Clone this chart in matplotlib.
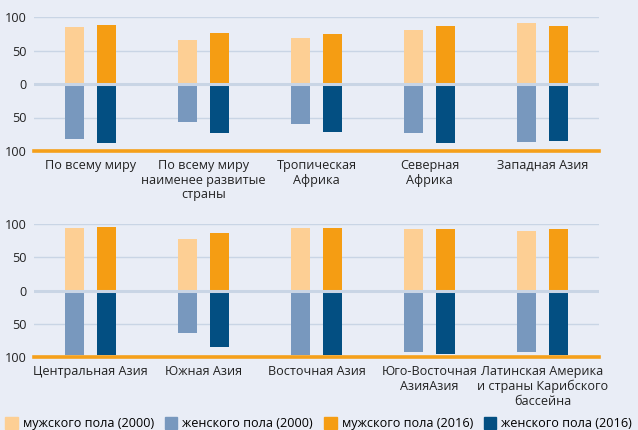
import matplotlib
matplotlib.use("Agg")
import matplotlib.pyplot as plt
import numpy as np
from matplotlib.patches import Patch

plt.rcParams['font.family'] = ['Open Sans', 'DejaVu Sans']

top_categories = ["По всему миру", "По всему миру\nнаименее развитые\nстраны", "Тропическая\nАфрика",
                  "Северная\nАфрика", "Западная Азия"]
top_male_2000 = [85, 65, 68, 80, 90.5]
top_male_2016 = [88, 76, 74.5, 86.5, 86.5]
top_female_2000 = [81.5, 56, 59, 72.5, 86]
top_female_2016 = [88, 73, 71, 88, 84.5]

bot_categories = ["Центральная Азия", "Южная Азия", "Восточная Азия",
                  "Юго-Восточная\nАзияАзия", "Латинская Америка\nи страны Карибского\nбассейна"]
bot_male_2000 = [94, 77.5, 94, 92.5, 89.5]
bot_male_2016 = [96, 87, 94, 92.5, 92.5]
bot_female_2000 = [96.5, 63.5, 96.5, 93, 93]
bot_female_2016 = [96.5, 84.5, 96.5, 95, 96.5]

y_ticks = [100, 50, 0, -50, -100]
y_ticklabels = ["100", "50", "0", "50", "100"]
legend_labels = ["мужского пола (2000)", "женского пола (2000)",
                 "мужского пола (2016)", "женского пола (2016)"]

c_m00 = "#FDCF94"
c_f00 = "#7898BE"
c_m16 = "#F59D13"
c_f16 = "#034F82"
bg = "#E9EDF6"
grid_c = "#C9D5E5"
fs = 9.1

W, H = 638, 430
fig = plt.figure(figsize=(W / 100, H / 100), dpi=100, facecolor=bg)

def make_ax(top_px, bot_px, cats, m00, m16, f00, f16):
    left_px, right_px = 34, 599
    ax = fig.add_axes([left_px / W, 1 - bot_px / H, (right_px - left_px) / W, (bot_px - top_px) / H])
    ax.set_facecolor(bg)
    x = np.arange(len(cats))
    w = 0.168
    off = 0.142
    ax.bar(x - off, m00, width=w, color=c_m00, zorder=2)
    ax.bar(x + off, m16, width=w, color=c_m16, zorder=2)
    ax.bar(x - off, -np.array(f00), width=w, color=c_f00, zorder=2)
    ax.bar(x + off, -np.array(f16), width=w, color=c_f16, zorder=2)
    for yv in [100, 50, -50]:
        ax.axhline(yv, color=grid_c, lw=1, zorder=1)
    ax.axhline(0, color=grid_c, lw=2.2, zorder=3)
    ax.axhline(-100, color="#F5A01A", lw=2.6, zorder=4, clip_on=False)
    ax.set_xlim(-0.5, len(cats) - 0.5)
    ax.set_ylim(-100, 100)
    ax.set_yticks(y_ticks)
    ax.set_yticklabels(y_ticklabels)
    ax.set_xticks(x)
    ax.set_xticklabels(cats, linespacing=1.15)
    ax.tick_params(axis='both', length=0, labelsize=fs, colors="#222222")
    ax.tick_params(axis='y', pad=5)
    ax.tick_params(axis='x', pad=6)
    for s in ax.spines.values():
        s.set_visible(False)
    return ax

make_ax(17, 151, top_categories, top_male_2000, top_male_2016, top_female_2000, top_female_2016)
make_ax(224, 357, bot_categories, bot_male_2000, bot_male_2016, bot_female_2000, bot_female_2016)

handles = [Patch(color=c) for c in [c_m00, c_f00, c_m16, c_f16]]
fig.legend(handles, legend_labels, loc='center left', bbox_to_anchor=(0.008, 0.014),
           ncol=4, frameon=False, fontsize=fs, handlelength=1.0, handleheight=1.0,
           handletextpad=0.4, columnspacing=0.85, borderaxespad=0, borderpad=0.0)

fig.savefig("out.png", dpi=100, facecolor=bg)
